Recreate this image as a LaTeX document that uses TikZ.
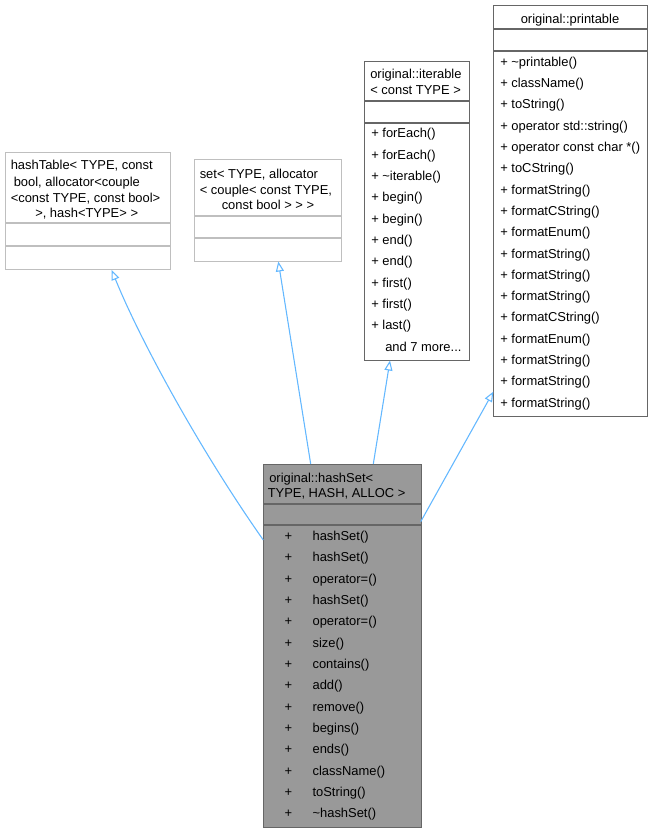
\documentclass[tikz,border=0pt]{standalone}
\usepackage{fontspec}
\setmainfont{Liberation Sans}
\usetikzlibrary{arrows.meta}
\definecolor{extborder}{HTML}{BFBFBF}
\definecolor{clsborder}{HTML}{666666}
\definecolor{mainfill}{HTML}{999999}
\definecolor{inhcol}{HTML}{63B8FF}
\tikzset{
  extbox/.style={draw=extborder, line width=0.9pt, fill=white, anchor=north west, inner sep=0pt},
  clsbox/.style={draw=clsborder, line width=0.9pt, fill=white, anchor=north west, inner sep=0pt},
  mainbox/.style={draw=clsborder, line width=0.9pt, fill=mainfill, anchor=north west, inner sep=0pt},
  extsep/.style={draw=extborder, line width=0.9pt},
  clssep/.style={draw=clsborder, line width=0.9pt},
  lbl/.style={anchor=west, inner sep=0pt, text height=7pt, text depth=0pt, font=\fontsize{9.7}{11.6}\selectfont},
  ctr/.style={anchor=center, inner sep=0pt, text height=7pt, text depth=0pt, font=\fontsize{9.7}{11.6}\selectfont},
  inh/.style={draw=inhcol, line width=0.8pt, -{Triangle[open, length=7.5pt, width=6pt]}},
}
\begin{document}
\begin{tikzpicture}[x=0.75pt, y=-0.75pt]
\useasboundingbox[fill=white] (0,0) rectangle (652,832);

% hashTable base (external)
\node[extbox, minimum width=165*0.75pt, minimum height=117*0.75pt] (ht) at (5,152) {};
\draw[extsep] (5,223) -- (170,223);
\draw[extsep] (5,246) -- (170,246);
\node[lbl] (ht1) at (10.5,165) {hashTable< TYPE, const};
\node[lbl] (ht2) at (13.5,181.5) {bool, allocator<couple};
\node[lbl] (ht3) at (10.5,197.5) {<const TYPE, const bool>};
\node[lbl] (ht4) at (35,212.5) {>, hash<TYPE> >};

% set base (external)
\node[extbox, minimum width=147*0.75pt, minimum height=102*0.75pt] (st) at (194,159) {};
\draw[extsep] (194,216) -- (341,216);
\draw[extsep] (194,238) -- (341,238);
\node[lbl] (st1) at (199.5,173.5) {set< TYPE, allocator};
\node[lbl] (st2) at (199.5,190) {< couple< const TYPE,};
\node[lbl] (st3) at (221.5,205) {const bool > > >};

% iterable
\node[clsbox, minimum width=105*0.75pt, minimum height=299*0.75pt] (it) at (364,61) {};
\draw[clssep] (364,101) -- (469,101);
\draw[clssep] (364,123) -- (469,123);
\node[lbl] (it1) at (370,74) {original::iterable};
\node[lbl] (it2) at (370,90) {< const TYPE >};
\foreach \t [count=\i from 0] in {forEach(),forEach(),\textasciitilde iterable(),begin(),begin(),end(),end(),first(),first(),last()}
  \node[lbl] (itr\i) at (371,133.3+21.33*\i) {+ \t};
\node[lbl] (itmore) at (385,346.6) {and 7 more...};

% printable
\node[clsbox, minimum width=154*0.75pt, minimum height=411*0.75pt] (pr) at (493,5) {};
\draw[clssep] (493,29) -- (647,29);
\draw[clssep] (493,51) -- (647,51);
\node[ctr] (prt) at (570,18.5) {original::printable};
\foreach \t [count=\i from 0] in {\textasciitilde printable(),className(),toString(),operator std::string(),operator const char *(),toCString(),formatString(),formatCString(),formatEnum(),formatString(),formatString(),formatString(),formatCString(),formatEnum(),formatString(),formatString(),formatString()}
  \node[lbl] (prr\i) at (500,61.7+21.3*\i) {+ \t};

% hashSet (main)
\node[mainbox, minimum width=158*0.75pt, minimum height=363*0.75pt] (hs) at (263,464) {};
\draw[clssep] (263,504) -- (421,504);
\draw[clssep] (263,525) -- (421,525);
\node[lbl] (hs1) at (269,477.5) {original::hashSet<};
\node[lbl] (hs2) at (267.5,492.5) {TYPE, HASH, ALLOC >};
\foreach \t [count=\i from 0] in {hashSet(),hashSet(),operator=(),hashSet(),operator=(),size(),contains(),add(),remove(),begins(),ends(),className(),toString(),\textasciitilde hashSet()}{
  \node[ctr] (hsp\i) at (288.5,535.7+21.33*\i) {+};
  \node[lbl] (hsr\i) at (312.3,535.7+21.33*\i) {\t};
}

% connector end points
\coordinate (a1s) at (263.3,540);
\coordinate (a1e) at (111.7,270);
\coordinate (a2s) at (310.7,464);
\coordinate (a2e) at (278.3,261.5);
\coordinate (a3s) at (373.3,464);
\coordinate (a3e) at (390,360.5);
\coordinate (a4s) at (420.7,521.7);
\coordinate (a4e) at (493.3,391.7);

\draw[inh] (a1s) .. controls (200,450) and (140,340) .. (a1e);
\draw[inh] (a2s) -- (a2e);
\draw[inh] (a3s) -- (a3e);
\draw[inh] (a4s) -- (a4e);
\end{tikzpicture}
\end{document}
